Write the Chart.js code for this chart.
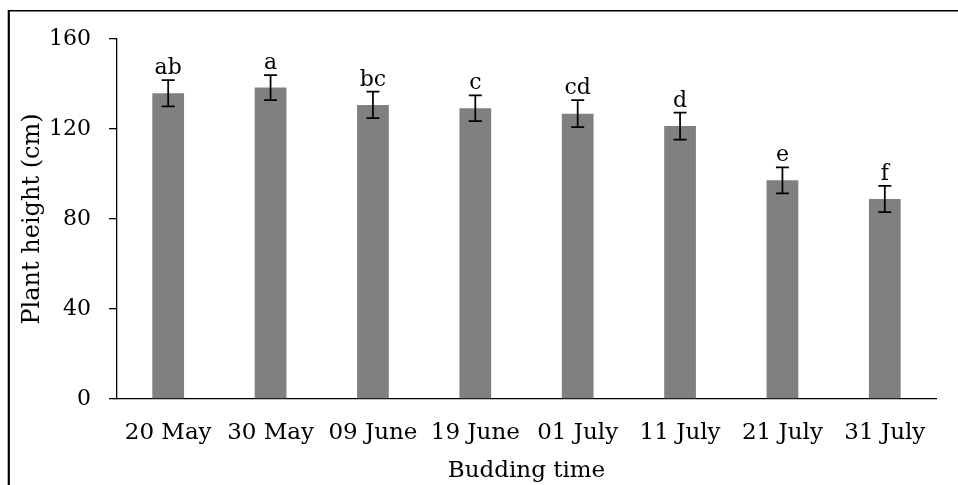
<!DOCTYPE html>
<html>
<head>
<meta charset="utf-8">
<script src="https://cdn.jsdelivr.net/npm/chart.js@4/dist/chart.umd.min.js"></script>
<style>
  body { margin: 0; background: #fff; }
</style>
</head>
<body>
<canvas id="myChart" width="958" height="485"></canvas>
<script>
"use strict";
// budding dates and plant heights
const labels = ["20 May", "30 May", "09 June", "19 June", "01 July", "11 July", "21 July", "31 July"];
const heights = [135.9, 138.4, 130.7, 129.2, 126.8, 121.3, 97.2, 88.9];
const errors = [5.8, 5.6, 5.9, 5.7, 6.0, 6.0, 5.8, 5.8];
const letters = ["ab", "a", "bc", "c", "cd", "d", "e", "f"];
const yTicks = [0, 40, 80, 120, 160];

const fontName = "'DejaVu Serif', serif";

// outer frame of the figure (only top and left edges are in view)
const frame = {
  id: "frame",
  beforeDraw(chart) {
    const ctx = chart.ctx;
    ctx.save();
    ctx.fillStyle = "#fff";
    ctx.fillRect(0, 0, chart.width, chart.height);
    ctx.strokeStyle = "#000";
    ctx.beginPath();
    ctx.lineWidth = 1.5;
    ctx.moveTo(8, 10.75);
    ctx.lineTo(chart.width, 10.75);
    ctx.stroke();
    ctx.beginPath();
    ctx.lineWidth = 2.2;
    ctx.moveTo(8.8, 10);
    ctx.lineTo(8.8, chart.height);
    ctx.stroke();
    ctx.restore();
  }
};

// error bars + significance letters
const errorBars = {
  id: "errorBars",
  afterDatasetsDraw(chart) {
    const ctx = chart.ctx;
    const y = chart.scales.y;
    const meta = chart.getDatasetMeta(0);
    ctx.save();
    ctx.strokeStyle = "#000";
    ctx.fillStyle = "#000";
    ctx.lineWidth = 1.75;
    ctx.font = "22px " + fontName;
    ctx.textAlign = "center";
    ctx.textBaseline = "alphabetic";
    meta.data.forEach((bar, i) => {
      const x = bar.x;
      const top = y.getPixelForValue(heights[i] + errors[i]);
      const bot = y.getPixelForValue(heights[i] - errors[i]);
      ctx.beginPath();
      ctx.moveTo(x, top);
      ctx.lineTo(x, bot);
      ctx.moveTo(x - 6.5, top);
      ctx.lineTo(x + 6.5, top);
      ctx.moveTo(x - 6.5, bot);
      ctx.lineTo(x + 6.5, bot);
      ctx.stroke();
      ctx.fillText(letters[i], x, top - 6);
    });
    ctx.restore();
  }
};

const data = {
  labels: labels,
  datasets: [
    {
      data: heights,
      backgroundColor: "#808080",
      borderWidth: 0,
      categoryPercentage: 1,
      barPercentage: 0.31
    }
  ]
};

const config = {
  type: "bar",
  data: data,
  plugins: [frame, errorBars],
  options: {
    responsive: false,
    animation: false,
    layout: {
      padding: { left: 0, right: 22, top: 39, bottom: 0 }
    },
    scales: {
      x: {
        afterFit(scale) { scale.height = 86; },
        grid: { display: false, drawTicks: false },
        border: { display: true, color: "#000", width: 1.3 },
        ticks: {
          color: "#000",
          padding: 20,
          maxRotation: 0,
          autoSkip: false,
          font: { family: fontName, size: 23 }
        },
        title: {
          display: true,
          text: "Budding time",
          color: "#000",
          padding: { top: 0, bottom: 2 },
          font: { family: fontName, size: 23, lineHeight: 1 }
        }
      },
      y: {
        min: 0,
        max: 160,
        afterFit(scale) { scale.width = 117; },
        afterBuildTicks(scale) {
          scale.ticks = yTicks.map(v => ({ value: v }));
        },
        grid: {
          drawOnChartArea: false,
          drawTicks: true,
          tickLength: 8,
          color: "#000",
          lineWidth: 1.3
        },
        border: { display: true, color: "#000", width: 1.3 },
        ticks: {
          color: "#000",
          padding: 18,
          font: { family: fontName, size: 22 }
        },
        title: {
          display: true,
          text: "Plant height (cm)",
          color: "#000",
          padding: { top: 18, bottom: 0 },
          font: { family: fontName, size: 24 }
        }
      }
    },
    plugins: {
      legend: { display: false },
      tooltip: { enabled: false }
    }
  }
};

let myChart = new Chart(document.getElementById("myChart"), config);
</script>
</body>
</html>
